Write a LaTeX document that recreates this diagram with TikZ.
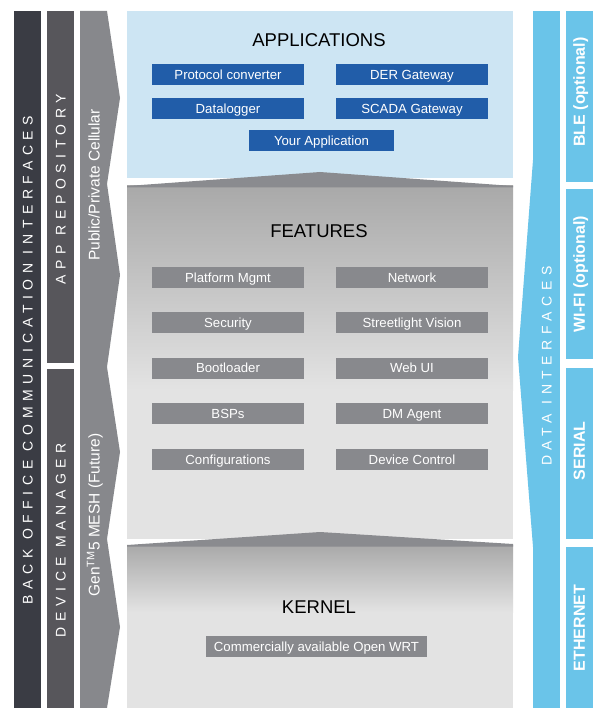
\documentclass[tikz,border=0pt]{standalone}
\usepackage{fontspec}
\setmainfont{Liberation Sans}
\newfontfamily\spaced[LetterSpace=40]{Liberation Sans}
\definecolor{barone}{HTML}{3A3C44}
\definecolor{bartwo}{HTML}{57565B}
\definecolor{barthree}{HTML}{87888C}
\definecolor{skyblue}{HTML}{6AC4E9}
\definecolor{appbg}{HTML}{CDE5F3}
\definecolor{appblue}{HTML}{215DA9}
\definecolor{featgray}{HTML}{88898D}
\definecolor{roofgray}{HTML}{8A8B8F}
\definecolor{gradtop}{HTML}{A9A9A9}
\definecolor{gradbot}{HTML}{E3E3E3}
\begin{document}
\begin{tikzpicture}[x=1pt,y=-1pt,
  boxlabel/.style={inner sep=0pt, minimum height=21pt, text=white,
    font=\fontsize{13.2}{13.2}\selectfont, text height=9.5pt, text depth=0pt},
  appbox/.style={boxlabel, fill=appblue, minimum width=152pt},
  featbox/.style={boxlabel, fill=featgray, minimum width=152pt},
  title/.style={inner sep=0pt, text=black, font=\fontsize{18.5}{18.5}\selectfont, text height=13.2pt, text depth=0pt},
  barlabel/.style={inner sep=0pt, rotate=90, text=white, font=\fontsize{14}{14}\spaced, text height=10pt, text depth=0pt},
  arrowlabel/.style={inner sep=0pt, rotate=90, text=white, font=\fontsize{15.5}{15.5}\selectfont, text height=11.1pt, text depth=0pt},
  sidelabel/.style={inner sep=0pt, rotate=90, text=white, font=\fontsize{16}{16}\selectfont\bfseries, text height=11.5pt, text depth=0pt}
]
\useasboundingbox (0,0) rectangle (593,708);
\fill[white] (0,0) rectangle (593,708);

% left bars
\fill[barone] (14,11) rectangle (41,708);
\fill[bartwo] (47,11) rectangle (74,363);
\fill[bartwo] (47,369) rectangle (74,708);
\fill[barthree] (80,11) -- (107,11) -- (120,98) -- (107,184) -- (120,275) -- (107,367)
  -- (120,452) -- (107,539) -- (120,627) -- (107,708) -- (80,708) -- cycle;

% applications
\fill[appbg] (127,11) rectangle (513,178);

% features
\fill[top color=gradtop, bottom color=gradbot] (127,186) rectangle (513,390);
\fill[gradbot] (127,389.5) rectangle (513,539);
\fill[roofgray] (127,186) -- (320,172) -- (513,186) -- (513,187.5) -- (127,187.5) -- cycle;

% kernel
\fill[top color=gradtop, bottom color=gradbot] (127,545) rectangle (513,612);
\fill[gradbot] (127,611.5) rectangle (513,708);
\fill[roofgray] (127,545) -- (320,532) -- (513,544) -- (513,546.5) -- (127,546.5) -- cycle;

% right bars
\fill[skyblue] (533,11) rectangle (560,708);
\fill[skyblue] (533,160) -- (518,357) -- (533,547) -- cycle;
\fill[skyblue] (566,11) rectangle (593,182);
\fill[skyblue] (566,189) rectangle (593,359);
\fill[skyblue] (566,368) rectangle (593,539);
\fill[skyblue] (566,547) rectangle (593,708);

% titles
\node[title] (apps) at (319,39.5) {APPLICATIONS};
\node[title] (feat) at (319,231) {FEATURES};
\node[title] (kern) at (319,607) {KERNEL};

% application boxes
\node[appbox] (pc) at (228,74.5) {Protocol converter};
\node[appbox] (der) at (412,74.5) {DER Gateway};
\node[appbox] (dl) at (228,108.5) {Datalogger};
\node[appbox] (scada) at (412,108.5) {SCADA Gateway};
\node[appbox, minimum width=145pt] (your) at (321.5,140.5) {Your Application};

% feature boxes
\node[featbox] (pm) at (228,277.5) {Platform Mgmt};
\node[featbox] (net) at (412,277.5) {Network};
\node[featbox] (sec) at (228,322.5) {Security};
\node[featbox] (slv) at (412,322.5) {Streetlight Vision};
\node[featbox] (boot) at (228,368) {Bootloader};
\node[featbox] (web) at (412,368) {Web UI};
\node[featbox] (bsp) at (228,413.5) {BSPs};
\node[featbox] (dm) at (412,413.5) {DM Agent};
\node[featbox] (conf) at (228,459.5) {Configurations};
\node[featbox] (dc) at (412,459.5) {Device Control};

% kernel box
\node[featbox, minimum width=221pt] (owrt) at (316.5,646.5) {Commercially available Open WRT};

% left labels
\node[barlabel] (boci) at (27.5,360) {BACK OFFICE COMMUNICATION INTERFACES};
\node[barlabel] (apprepo) at (60.5,189) {APP REPOSITORY};
\node[barlabel] (devman) at (60.5,540) {DEVICE MANAGER};
\node[arrowlabel] (cell) at (94,185) {Public/Private Cellular};
\node[arrowlabel] (mesh) at (94,515) {Gen\textsuperscript{TM}5 MESH (Future)};

% right labels
\node[barlabel] (dataif) at (546.5,366) {DATA INTERFACES};
\node[sidelabel] (ble) at (579,92) {BLE (optional)};
\node[sidelabel] (wifi) at (579,274) {WI-FI (optional)};
\node[sidelabel] (serial) at (579,451) {SERIAL};
\node[sidelabel] (eth) at (579,628) {ETHERNET};
\end{tikzpicture}
\end{document}
